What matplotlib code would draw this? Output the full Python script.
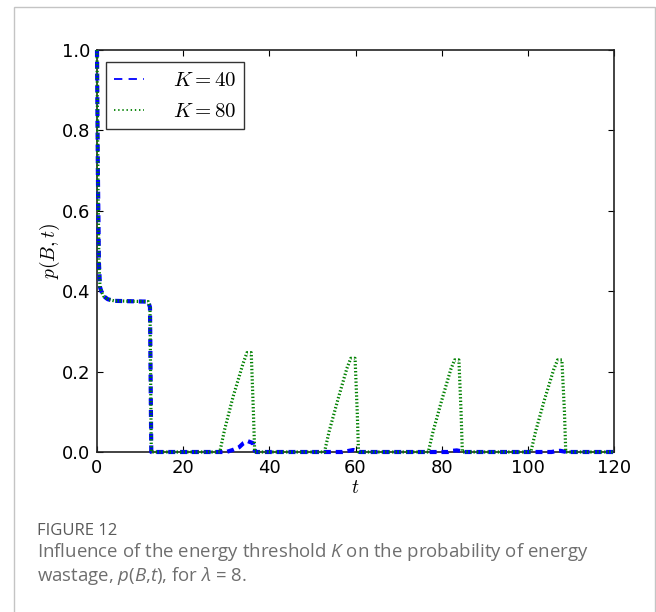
import matplotlib
matplotlib.use("Agg")
import matplotlib.pyplot as plt
from matplotlib.lines import Line2D
from matplotlib.patches import Rectangle

plt.rcParams["mathtext.fontset"] = "cm"
plt.rcParams["lines.scale_dashes"] = False
# fonts used by the caption's inline math (math_fontfamily="custom")
plt.rcParams["mathtext.rm"] = "Open Sans"
plt.rcParams["mathtext.it"] = "Open Sans:italic"

# p(B, t) over time for two energy thresholds
t_k40 = [0, 0.2, 0.45, 0.7, 1.0, 1.5, 2.5, 4.0, 8.0, 11.9, 12.3, 12.6, 13.0,
         30.0, 31.5, 33.0, 34.0, 35.0, 36.2, 36.6, 37.0,
         57.0, 58.5, 59.5, 60.5, 61.0,
         81.5, 82.5, 83.5, 84.5, 85.0,
         105.5, 106.5, 107.5, 108.5, 109.0, 120.0]
p_k40 = [1.0, 0.70, 0.47, 0.41, 0.400, 0.388, 0.380, 0.376, 0.375, 0.374, 0.36, 0.0, 0.0,
         0.0, 0.005, 0.012, 0.022, 0.027, 0.022, 0.004, 0.0,
         0.0, 0.003, 0.005, 0.002, 0.0,
         0.0, 0.003, 0.004, 0.002, 0.0,
         0.0, 0.002, 0.003, 0.001, 0.0, 0.0]

t_k80 = [0, 0.2, 0.45, 0.7, 1.0, 1.5, 2.5, 4.0, 8.0, 11.9, 12.3, 12.6, 13.0,
         28.5, 29.6, 31.6, 33.9, 34.8, 35.8, 36.3, 36.6,
         52.8, 53.9, 55.9, 58.0, 58.9, 59.9, 60.4, 60.7,
         76.9, 78.0, 80.0, 82.1, 83.0, 84.0, 84.5, 84.8,
         100.7, 101.8, 103.8, 106.0, 106.9, 107.9, 108.5, 108.8, 120.0]
p_k80 = [1.0, 0.70, 0.47, 0.41, 0.400, 0.388, 0.380, 0.376, 0.375, 0.374, 0.36, 0.0, 0.0,
         0.0, 0.055, 0.138, 0.220, 0.247, 0.247, 0.10, 0.0,
         0.0, 0.052, 0.130, 0.208, 0.233, 0.233, 0.10, 0.0,
         0.0, 0.051, 0.128, 0.205, 0.229, 0.229, 0.10, 0.0,
         0.0, 0.051, 0.128, 0.205, 0.229, 0.229, 0.10, 0.0, 0.0]

labels = ["$K=40$", "$K=80$"]
x_ticks = [0, 20, 40, 60, 80, 100, 120]
y_ticks = [0.0, 0.2, 0.4, 0.6, 0.8, 1.0]

fig = plt.figure(figsize=(6.56, 6.12), dpi=100)
ax = fig.add_axes([97 / 656, 1 - 452 / 612, (614 - 97) / 656, (452 - 50) / 612])

ax.plot(t_k40, p_k40, color="#0000ff", lw=3.0, dashes=(5, 3.5),
        dash_capstyle="butt", clip_on=False, zorder=3)
ax.plot(t_k80, p_k80, color="#008000", lw=2.3, dashes=(1.0, 1.5),
        dash_capstyle="butt", clip_on=False, zorder=4)

ax.set_xlim(0, 120)
ax.set_ylim(0, 1.0)
ax.set_xticks(x_ticks)
ax.set_yticks(y_ticks)
ax.set_xticklabels([str(v) for v in x_ticks])
ax.set_yticklabels([f"{v:.1f}" for v in y_ticks])
ax.tick_params(direction="in", length=4, width=0.8, top=True, right=True,
               labelsize=13, pad=5, colors="black")
for s in ax.spines.values():
    s.set_linewidth(1.2)
    s.set_color("#222222")

ax.set_xlabel("$t$", fontsize=14, labelpad=1)
ax.set_ylabel("$p(B,t)$", fontsize=14, labelpad=0)

handles = [Line2D([], [], color="#0000ff", lw=1.3, dashes=(6, 4.5)),
           Line2D([], [], color="#008000", lw=1.3, dashes=(1, 2))]
leg = ax.legend(handles, labels, loc="upper left", fontsize=15, frameon=True,
                fancybox=False, handlelength=1.45, handletextpad=1.4,
                borderpad=0.38, labelspacing=0.55, bbox_to_anchor=(0.0, 1.0),
                borderaxespad=0.0)
leg.get_frame().set_edgecolor("black")
leg.get_frame().set_linewidth(1.0)
# place the legend box by its upper-left corner in axes coordinates
leg.set_bbox_to_anchor((9 / 517, 1 - 12 / 402), transform=ax.transAxes)

# caption block and outer frame
fig.patches.append(Rectangle((14 / 656, -0.05), (655 - 14) / 656, 1 - 7 / 612 + 0.05,
                             transform=fig.transFigure, fill=False,
                             edgecolor="#c4c4c4", lw=1.0))
fig.text(37 / 656, 1 - 531 / 612, "FIGURE 12", fontsize=12, color="#5a5a5a",
         family="Open Sans", va="center", ha="left")
fig.text(37 / 656, 1 - 552 / 612,
         "Influence of the energy threshold $K$ on the probability of energy",
         fontsize=13.4, color="#6e6e6e", family="Open Sans", va="center", ha="left",
         math_fontfamily="custom")
fig.text(37 / 656, 1 - 576 / 612,
         "wastage, $p$($B$,$t$), for $\\lambda$ = 8.",
         fontsize=13.4, color="#6e6e6e", family="Open Sans", va="center", ha="left",
         math_fontfamily="custom")

fig.savefig("out.png", dpi=100)
